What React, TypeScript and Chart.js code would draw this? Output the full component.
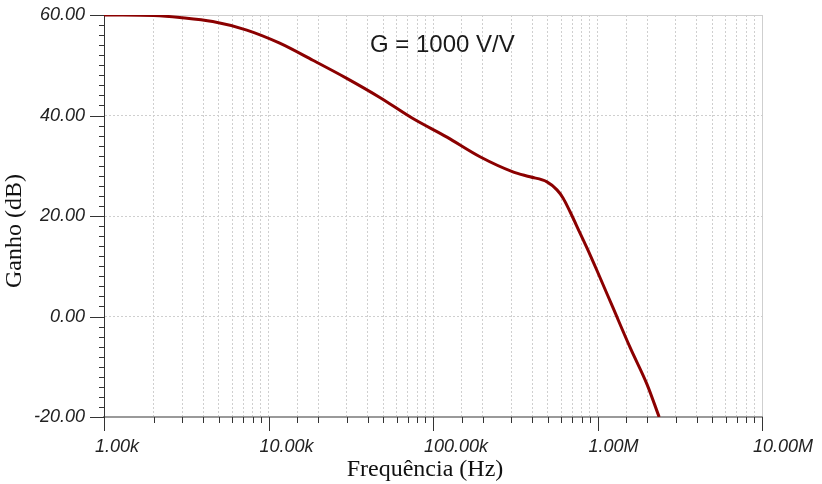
import React, { useEffect, useRef } from "react";
import { Chart, registerables } from "chart.js";

Chart.register(...registerables);

// Frequency (Hz) and gain (dB)
const freqHz = [
  1000, 1300, 2000, 2890, 4580, 7380, 11700, 18600, 29900, 47500, 75500,
  121600, 193000, 306000, 389000, 493000, 567000, 617000, 680000, 783000,
  864000, 994000, 1240000, 1580000, 2000000, 2370000,
];
const gainDb = [
  60, 60, 59.9, 59.5, 58.7, 57, 54.4, 51, 47.4, 43.6, 39.4, 35.7, 31.8, 28.8,
  27.8, 26.8, 25.2, 23.6, 20.9, 16.6, 13.6, 9.1, 1.8, -6.2, -13.5, -20,
];

const xMajorValues = [1e3, 1e4, 1e5, 1e6, 1e7];
const xMajorLabels = ["1.00k", "10.00k", "100.00k", "1.00M", "10.00M"];
const yMajorValues = [60, 40, 20, 0, -20];
const yMajorLabels = ["60.00", "40.00", "20.00", "0.00", "-20.00"];

const xTitle = "Frequência (Hz)";
const yTitle = "Ganho (dB)";
const annotation = "G = 1000 V/V";

const isDecade = (v: number) =>
  Math.abs(Math.log10(v) - Math.round(Math.log10(v))) < 1e-6;

const overlayPlugin = {
  id: "overlay",
  afterDraw(chart: any) {
    const ctx = chart.ctx as CanvasRenderingContext2D;
    const xs = chart.scales.x;
    const ys = chart.scales.y;
    const area = chart.chartArea;
    ctx.save();
    // tick marks
    ctx.strokeStyle = "#333";
    ctx.lineWidth = 1;
    ctx.beginPath();
    ys.ticks.forEach((t: any) => {
      const p = Math.round(ys.getPixelForValue(t.value)) + 0.5;
      const major = Math.round(t.value) % 20 === 0;
      ctx.moveTo(area.left - (major ? 14 : 5), p);
      ctx.lineTo(area.left, p);
    });
    xs.ticks.forEach((t: any) => {
      const p = Math.round(xs.getPixelForValue(t.value)) + 0.5;
      const major = isDecade(t.value);
      ctx.moveTo(p, area.bottom);
      ctx.lineTo(p, area.bottom + (major ? 14 : 6));
    });
    ctx.stroke();

    // annotation
    ctx.fillStyle = "#1a1a1a";
    ctx.font = "24px 'Liberation Sans', Arial, sans-serif";
    ctx.textAlign = "left";
    ctx.textBaseline = "alphabetic";
    ctx.fillText(annotation, 370, 52);

    // axis titles
    ctx.fillStyle = "#111";
    ctx.font = "24px 'Liberation Serif', 'Times New Roman', serif";
    ctx.textAlign = "center";
    ctx.fillText(xTitle, 425, 476);
    ctx.translate(21, 231);
    ctx.rotate(-Math.PI / 2);
    ctx.fillText(yTitle, 0, 0);
    ctx.restore();
  },
};

export default function App() {
  const ref = useRef<HTMLCanvasElement | null>(null);
  useEffect(() => {
    if (!ref.current) return;
    const chart = new Chart(ref.current, {
      type: "line",
      data: {
        datasets: [
          {
            data: freqHz.map((f, i) => ({ x: f, y: gainDb[i] })),
            borderColor: "#8b0000",
            borderWidth: 3,
            pointRadius: 0,
            cubicInterpolationMode: "monotone",
            fill: false,
          },
        ],
      },
      options: {
        animation: false,
        responsive: false,
        maintainAspectRatio: false,
        layout: { padding: { top: 15, right: 60, left: 0, bottom: 0 } },
        plugins: { legend: { display: false }, tooltip: { enabled: false } },
        scales: {
          x: {
            type: "logarithmic",
            min: 1e3,
            max: 1e7,
            afterFit(scale: any) {
              scale.height = 67;
              scale.paddingLeft = 0;
              scale.paddingRight = 0;
            },
            grid: {
              drawTicks: false,
              color: "#cfcfcf",
              lineWidth: 1,
            },
            border: {
              color: "#9a9a9a",
              width: 2,
              dash: (c: any) =>
                c.tick && Math.abs(c.tick.value - 1e7) < 1 ? [] : [2, 2],
            },
            ticks: {
              autoSkip: false,
              maxRotation: 0,
              align: "start",
              labelOffset: -9,
              padding: 19,
              color: "#222",
              font: { family: "'Liberation Sans', Arial, sans-serif", size: 18, style: "italic" },
              callback: (v: any) => {
                const idx = xMajorValues.findIndex((m) => Math.abs(m - Number(v)) < 1e-3 * m);
                return idx >= 0 ? xMajorLabels[idx] : "";
              },
            },
          },
          y: {
            type: "linear",
            min: -20,
            max: 60,
            afterFit(scale: any) {
              scale.width = 104;
              scale.paddingTop = 0;
              scale.paddingBottom = 0;
            },
            grid: {
              drawTicks: false,
              lineWidth: 1,
              color: (c: any) =>
                c.tick && Math.round(c.tick.value) % 20 === 0 ? "#cfcfcf" : "rgba(0,0,0,0)",
            },
            border: {
              color: "#333",
              width: 1,
              dash: (c: any) =>
                c.tick && Math.round(c.tick.value) === 60 ? [] : [2, 2],
            },
            ticks: {
              stepSize: 2,
              autoSkip: false,
              padding: 19,
              color: "#222",
              font: { family: "'Liberation Sans', Arial, sans-serif", size: 18, style: "italic" },
              callback: (v: any) => {
                const idx = yMajorValues.findIndex((m) => Math.abs(m - Number(v)) < 1e-6);
                return idx >= 0 ? yMajorLabels[idx] : "";
              },
            },
          },
        },
      },
      plugins: [overlayPlugin],
    } as any);
    return () => chart.destroy();
  }, []);
  return (
    <div style={{ position: "fixed", left: 0, top: 0, width: 822, height: 484, background: "#fff" }}>
      <canvas ref={ref} width={822} height={484} style={{ display: "block" }} />
    </div>
  );
}
